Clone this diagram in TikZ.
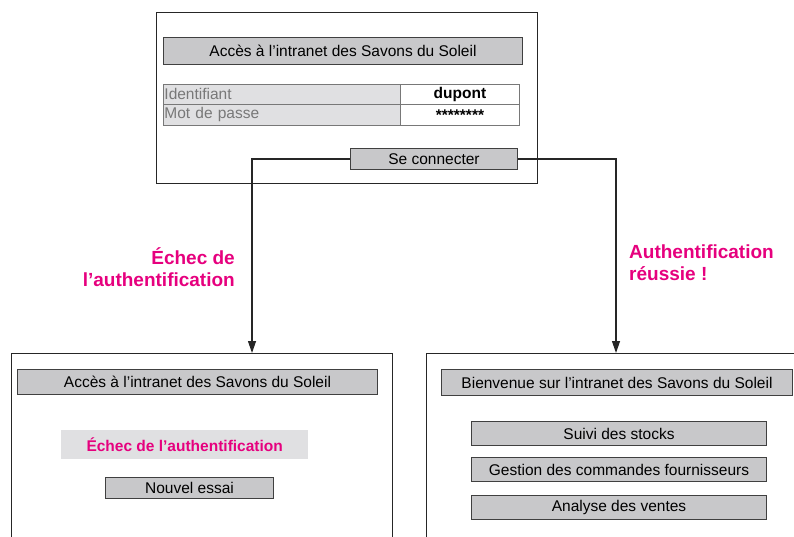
\documentclass[tikz,border=0pt]{standalone}
\usepackage{fontspec}
\setmainfont{Liberation Sans}
\usetikzlibrary{arrows.meta}
\definecolor{barfill}{RGB}{200,200,202}
\definecolor{cellfill}{RGB}{224,224,226}
\definecolor{fieldline}{RGB}{120,120,120}
\definecolor{greytext}{RGB}{120,120,120}
\definecolor{alert}{RGB}{230,0,126}
\tikzset{
  screen/.style={draw=black!85, line width=1.2pt, fill=white, anchor=north west, inner sep=0pt},
  bar/.style={draw=black!75, line width=1pt, fill=barfill, anchor=north west, inner sep=0pt,
    font=\fontsize{15.5}{17}\selectfont},
  cell/.style={draw=fieldline, line width=0.9pt, fill=cellfill, anchor=north west, inner sep=0pt,
    font=\fontsize{15.5}{17}\selectfont, text=greytext},
  field/.style={draw=fieldline, line width=0.9pt, fill=white, anchor=north west, inner sep=0pt,
    font=\bfseries\fontsize{15.5}{17}\selectfont},
  notice/.style={fill=cellfill, anchor=north west, inner sep=0pt,
    font=\bfseries\fontsize{15.5}{17}\selectfont, text=alert},
  outcome/.style={inner sep=0pt, font=\bfseries\fontsize{19}{22}\selectfont, text=alert},
  link/.style={draw=black!85, line width=1.2pt, -{Triangle[width=8pt,length=12pt]}}
}
\begin{document}
\begin{tikzpicture}[x=1pt,y=-1pt]
\useasboundingbox (0,0) rectangle (794,536);
\clip (0,0) rectangle (794,536);

% login screen
\node[screen, minimum width=381, minimum height=171] (login) at (156,12) {};
\node[bar, minimum width=359, minimum height=27] (ltitle) at (163,37)
  {Accès à l’intranet des Savons du Soleil};
\node[cell, minimum width=237, minimum height=20, text width=235, align=left] (idlab) at (163,84)
  {Identifiant};
\node[cell, minimum width=237, minimum height=21, text width=235, align=left] (pwlab) at (163,104)
  {Mot de passe};
\node[field, minimum width=119, minimum height=20] (idval) at (400,84) {dupont};
\node[field, minimum width=119, minimum height=21] (pwval) at (400,104) {********};
\node[bar, minimum width=167, minimum height=21] (btn) at (350,148) {Se connecter};

% failure screen
\node[screen, minimum width=381, minimum height=220] (fail) at (11,353) {};
\node[bar, minimum width=360, minimum height=25] (ftitle) at (17,369)
  {Accès à l’intranet des Savons du Soleil};
\node[notice, minimum width=247, minimum height=29] (fmsg) at (61,430)
  {Échec de l’authentification};
\node[bar, minimum width=168, minimum height=21] (retry) at (105,477) {Nouvel essai};

% welcome screen
\node[screen, minimum width=400, minimum height=220] (home) at (426,353) {};
\node[bar, minimum width=351, minimum height=26] (htitle) at (441,369)
  {Bienvenue sur l’intranet des Savons du Soleil};
\node[bar, minimum width=295, minimum height=24] (stock) at (471,421) {Suivi des stocks};
\node[bar, minimum width=295, minimum height=24] (orders) at (471,457)
  {Gestion des commandes fournisseurs};
\node[bar, minimum width=295, minimum height=24] (sales) at (471,495) {Analyse des ventes};

% outcomes
\coordinate (failin) at (252,353);
\coordinate (homein) at (616,353);
\draw[link] (btn.west) -| (failin);
\draw[link] (btn.east) -| (homein);
\node[outcome, anchor=north east, align=right] (nok) at (235,247)
  {Échec de\\l’authentification};
\node[outcome, anchor=north west, align=left] (ok) at (629,245)
  {Authentification\\réussie !};
\end{tikzpicture}
\end{document}
